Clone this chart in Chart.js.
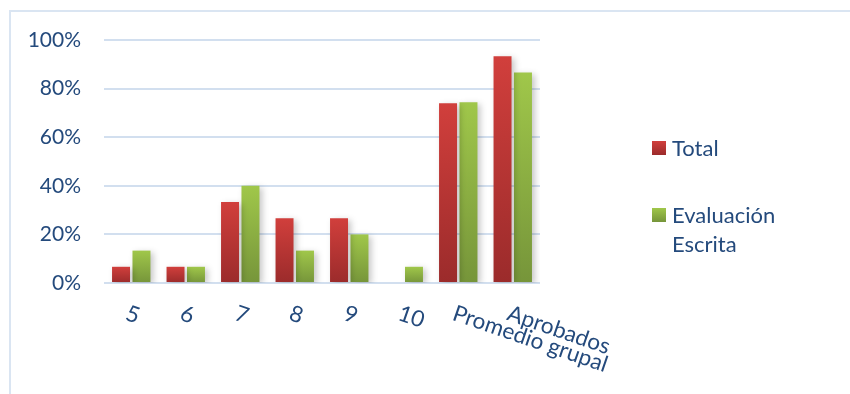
<!DOCTYPE html>
<html><head><meta charset="utf-8">
<script src="https://cdn.jsdelivr.net/npm/chart.js@4/dist/chart.umd.min.js"></script>
<style>html,body{margin:0;padding:0;background:#fff;} #wrap{position:relative;width:850px;height:394px;}</style>
</head><body><div id="wrap"><canvas id="c" width="850" height="394"></canvas></div>
<script>
const categories = ['5', '6', '7', '8', '9', '10', 'Promedio grupal', 'Aprobados'];
const totalValues = [6.67, 6.67, 33.33, 26.67, 26.67, 0, 74.0, 93.33];
const escritaValues = [13.33, 6.67, 40.0, 13.33, 20.0, 6.67, 74.4, 86.67];
const seriesNames = ['Total', 'Evaluación Escrita'];
const yTickValues = [0, 20, 40, 60, 80, 100];

const TEXT = '#244a7c';
const FONT = 'Lato';
const RED = ['#d13f3c', '#9b2b2b'];
const GREEN = ['#a0c74a', '#76953a'];

function barGradient(cols) {
  return (c) => {
    const ch = c.chart;
    if (c.type !== 'data' || !ch.chartArea || !ch.scales.y) return cols[0];
    const y = ch.scales.y;
    const top = y.getPixelForValue(c.raw);
    const bot = y.getPixelForValue(0);
    if (bot - top < 1) return cols[0];
    const g = ch.ctx.createLinearGradient(0, top, 0, bot);
    g.addColorStop(0, cols[0]);
    g.addColorStop(1, cols[1]);
    return g;
  };
}

const framePlugin = {
  id: 'frame',
  beforeDraw(chart) {
    const ctx = chart.ctx;
    ctx.save();
    ctx.strokeStyle = '#dae5f2';
    ctx.lineWidth = 2;
    ctx.beginPath();
    ctx.moveTo(10, 394);
    ctx.lineTo(10, 11);
    ctx.lineTo(850, 11);
    ctx.stroke();
    ctx.restore();
  }
};

const shadowPlugin = {
  id: 'shadow',
  beforeDatasetsDraw(chart) {
    const ctx = chart.ctx;
    ctx.save();
    ctx.shadowColor = 'rgba(0,0,0,0.22)';
    ctx.shadowBlur = 6;
    ctx.shadowOffsetX = 3;
    ctx.shadowOffsetY = 2;
  },
  afterDatasetsDraw(chart) {
    chart.ctx.restore();
  }
};

const xLabelPlugin = {
  id: 'xlabels',
  afterDraw(chart) {
    const ctx = chart.ctx;
    const xs = chart.scales.x;
    const base = chart.chartArea.bottom;
    ctx.save();
    ctx.fillStyle = TEXT;
    ctx.font = '22.5px ' + FONT;
    ctx.textAlign = 'left';
    ctx.textBaseline = 'top';
    categories.forEach((lab, i) => {
      const x = xs.getPixelForValue(i) - 1;
      ctx.save();
      ctx.translate(x, base + 19);
      ctx.rotate(19 * Math.PI / 180);
      ctx.fillText(lab, 0, 0);
      ctx.restore();
    });
    ctx.restore();
  }
};

const legendPlugin = {
  id: 'customLegend',
  afterDraw(chart) {
    const ctx = chart.ctx;
    const items = [
      { name: seriesNames[0], cols: RED, y: 141 },
      { name: seriesNames[1], cols: GREEN, y: 208 }
    ];
    ctx.save();
    ctx.font = '22px ' + FONT;
    ctx.fillStyle = TEXT;
    ctx.textAlign = 'left';
    ctx.textBaseline = 'alphabetic';
    items.forEach(it => {
      const g = ctx.createLinearGradient(0, it.y, 0, it.y + 14);
      g.addColorStop(0, it.cols[0]);
      g.addColorStop(1, it.cols[1]);
      ctx.fillStyle = g;
      ctx.fillRect(652, it.y, 14, 14);
      ctx.fillStyle = TEXT;
      const words = it.name.split(' ');
      words.forEach((w, k) => ctx.fillText(w, 672, it.y + 15 + k * 29));
    });
    ctx.restore();
  }
};

new Chart(document.getElementById('c'), {
  type: 'bar',
  data: {
    labels: categories,
    datasets: [
      { label: seriesNames[0], data: totalValues, backgroundColor: barGradient(RED), borderWidth: 0,
        barPercentage: 0.88, categoryPercentage: 0.75 },
      { label: seriesNames[1], data: escritaValues, backgroundColor: barGradient(GREEN), borderWidth: 0,
        barPercentage: 0.88, categoryPercentage: 0.75 }
    ]
  },
  options: {
    responsive: false,
    animation: false,
    layout: { padding: { left: 0, top: 40, right: 310, bottom: 111 } },
    plugins: { legend: { display: false }, tooltip: { enabled: false } },
    scales: {
      x: {
        grid: { display: false, drawTicks: false },
        border: { display: false },
        ticks: { display: false }
      },
      y: {
        min: 0, max: 100,
        afterBuildTicks: (s) => { s.ticks = yTickValues.map(v => ({ value: v })); },
        afterFit: (s) => { s.width = 104; },
        grid: { color: '#d2dfef', lineWidth: 2, drawTicks: false },
        border: { display: false },
        ticks: { padding: 23, color: TEXT, font: { family: FONT, size: 21 }, callback: (v) => v + '%' }
      }
    }
  },
  plugins: [framePlugin, shadowPlugin, xLabelPlugin, legendPlugin]
});
</script></body></html>
